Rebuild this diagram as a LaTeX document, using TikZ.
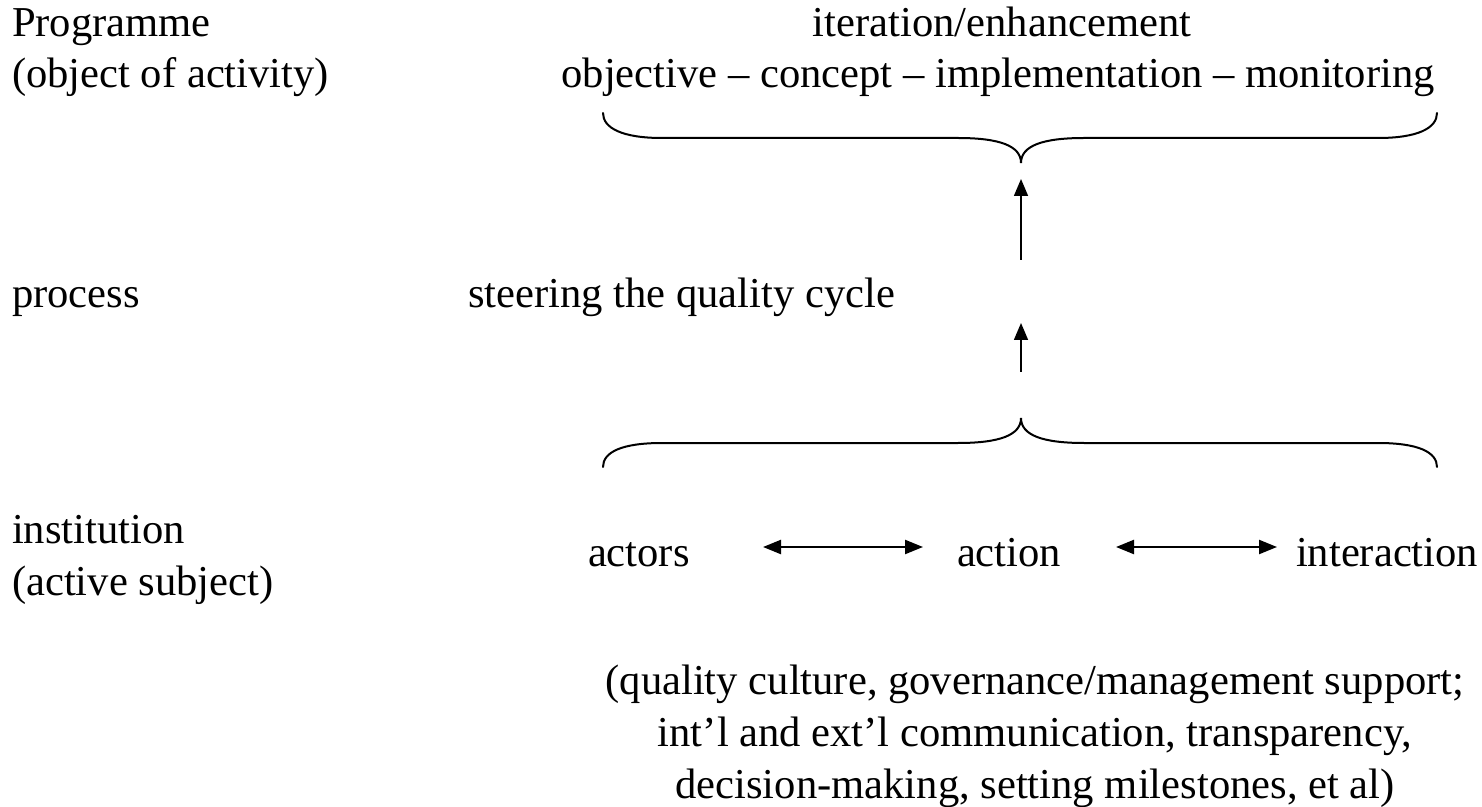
\documentclass[tikz,border=0pt]{standalone}
\usepackage{fontspec}
\setmainfont{Liberation Serif}
\usetikzlibrary{arrows.meta}
\begin{document}
\begin{tikzpicture}[x=0.5pt,y=-0.5pt,
  txt/.style={inner sep=0pt, outer sep=0pt, font=\fontsize{21.3pt}{26pt}\selectfont},
  lbl/.style={txt, anchor=base west},
  ctr/.style={txt, anchor=base},
  bracepath/.style={line width=1pt, line cap=round},
  uparr/.style={line width=0.8pt, -{Triangle[length=8.5pt,width=7pt]}},
  dblarr/.style={line width=1.15pt, {Triangle[length=9pt,width=7pt]}-{Triangle[length=9pt,width=7pt]}}]
\useasboundingbox (0,0) rectangle (1482,807);
\fill[white] (0,0) rectangle (1482,807);

% left column
\node[lbl] (prog) at (12,37) {Programme};
\node[lbl] (obj)  at (12,88) {(object of activity)};
\node[lbl] (proc) at (12,308) {process};
\node[lbl] (inst) at (12,543) {institution};
\node[lbl] (subj) at (12,595) {(active subject)};

% top
\node[ctr] (iter)  at (1002,37) {iteration/enhancement};
\node[ctr] (steps) at (998,88) {objective – concept – implementation – monitoring};

% upper brace
\coordinate (utip) at (1021,163);
\draw[bracepath] (603,113) .. controls (603,128) and (622,138) .. (662,138) -- (958,138)
  .. controls (1000,138) and (1021,146) .. (utip)
  .. controls (1021,146) and (1042,138) .. (1084,138) -- (1378,138)
  .. controls (1418,138) and (1437,128) .. (1437,113);

% middle
\node[lbl] (steer) at (468,308) {steering the quality cycle};
\coordinate (a1s) at (1021,260);
\coordinate (a1e) at (1021,179);
\coordinate (a2s) at (1021,372);
\coordinate (a2e) at (1021,323);
\draw[uparr] (a1s) -- (a1e);
\draw[uparr] (a2s) -- (a2e);

% lower brace
\coordinate (ltip) at (1021,418);
\draw[bracepath] (603,467) .. controls (603,452) and (622,443) .. (662,443) -- (958,443)
  .. controls (1000,443) and (1021,435) .. (ltip)
  .. controls (1021,435) and (1042,443) .. (1084,443) -- (1378,443)
  .. controls (1418,443) and (1437,452) .. (1437,467);

% actors row
\node[lbl] (actors) at (588,566) {actors};
\node[lbl] (action) at (957,566) {action};
\node[lbl] (inter)  at (1296,566) {interaction};
\coordinate (d1s) at (763,547);
\coordinate (d1e) at (923,547);
\coordinate (d2s) at (1116,547);
\coordinate (d2e) at (1277,547);
\draw[dblarr] (d1s) -- (d1e);
\draw[dblarr] (d2s) -- (d2e);

% bottom note
\node[ctr] (n1) at (1035,694) {(quality culture, governance/management support;};
\node[ctr] (n2) at (1035,746) {int’l and ext’l communication, transparency,};
\node[ctr] (n3) at (1035,798) {decision-making, setting milestones, et al)};
\end{tikzpicture}
\end{document}
